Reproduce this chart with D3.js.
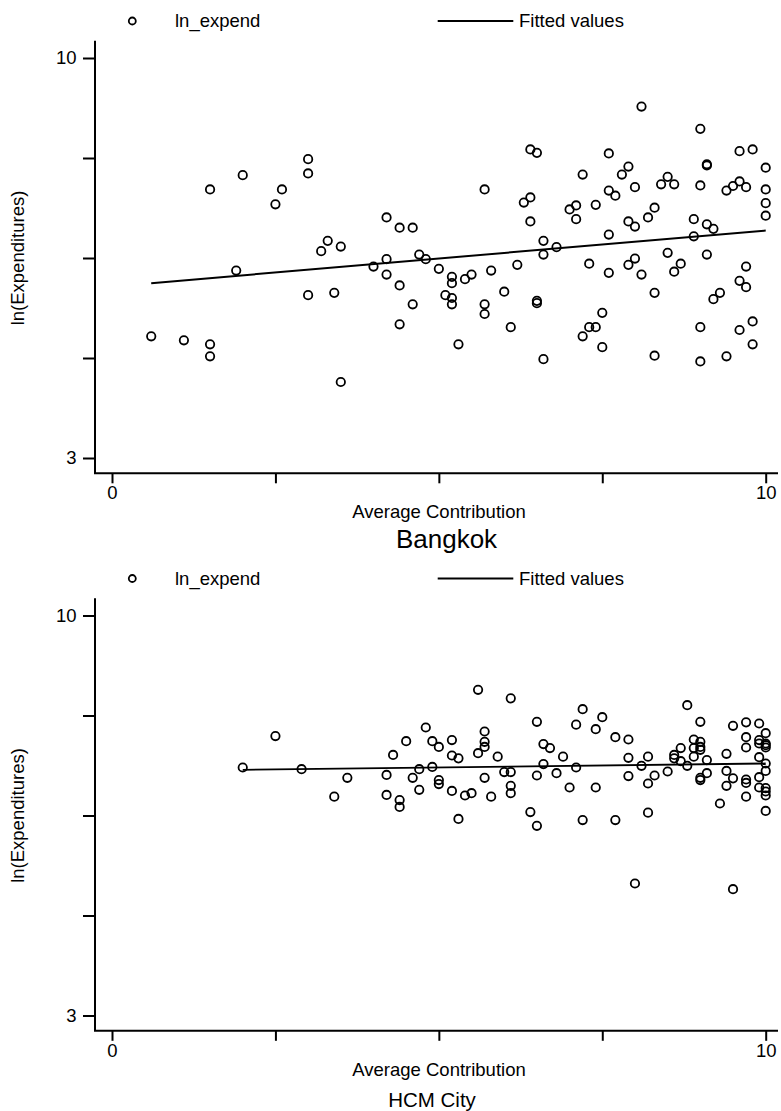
<!DOCTYPE html>
<html>
<head>
<meta charset="utf-8">
<script src="https://cdn.jsdelivr.net/npm/d3@7"></script>
<style>
  html, body { margin: 0; padding: 0; background: #fff; }
  svg { display: block; font-family: "Liberation Sans", Arial, sans-serif; }
</style>
</head>
<body>
<script>
// ---- data ----
const cities = ["Bangkok", "HCM City"];
const legendLabels = ["ln_expend", "Fitted values"];
const xTitle = "Average Contribution";
const yTitle = "ln(Expenditures)";
const xTicks = [0, 2.5, 5, 7.5, 10];
const xTickLabels = { 0: "0", 10: "10" };
const yTicks = [3, 4.75, 6.5, 8.25, 10];
const yTickLabels = { 3: "3", 10: "10" };

// [average contribution, ln(expenditures)]
const bangkokPoints = [
  [0.6, 5.13], [1.1, 5.06], [1.5, 4.99], [1.5, 4.78], [1.5, 7.70], [2.0, 7.95], [1.9, 6.28],
  [2.5, 7.44], [2.6, 7.70], [3.0, 8.23], [3.0, 7.98], [3.0, 5.85], [3.2, 6.62], [3.3, 6.80],
  [3.5, 6.70], [3.4, 5.89], [3.5, 4.33], [4.0, 6.35], [4.2, 7.21], [4.2, 6.48], [4.2, 6.21],
  [4.4, 7.03], [4.4, 6.02], [4.4, 5.34], [4.6, 7.03], [4.6, 5.69], [4.7, 6.56], [4.8, 6.48],
  [5.0, 6.31], [5.2, 6.17], [5.2, 6.06], [5.1, 5.85], [5.2, 5.80], [5.2, 5.69], [5.4, 6.13],
  [5.5, 6.21], [5.3, 4.99], [5.7, 7.70], [5.7, 5.69], [5.7, 5.52], [5.8, 6.28], [6.0, 5.91],
  [6.1, 5.29], [6.2, 6.38], [6.3, 7.47], [6.4, 7.56], [6.4, 7.14], [6.4, 8.40], [6.5, 8.34],
  [6.5, 5.75], [6.5, 5.71], [6.6, 6.80], [6.6, 6.56], [6.6, 4.73], [6.8, 6.69], [7.0, 7.35],
  [7.1, 7.42], [7.1, 7.18], [7.2, 7.96], [7.3, 6.40], [7.2, 5.13], [7.3, 5.29], [7.4, 5.29],
  [7.4, 7.43], [7.5, 5.54], [7.5, 4.94], [7.6, 8.33], [7.6, 7.68], [7.7, 7.59], [7.6, 6.91],
  [7.6, 6.24], [7.8, 7.96], [7.9, 8.10], [8.0, 7.74], [7.9, 7.14], [8.0, 7.05], [8.0, 6.49],
  [7.9, 6.38], [8.1, 6.21], [8.1, 9.15], [8.2, 7.21], [8.3, 7.38], [8.3, 5.89], [8.3, 4.79],
  [8.4, 7.79], [8.5, 7.92], [8.6, 7.79], [8.5, 6.59], [8.7, 6.40], [8.6, 6.26], [8.9, 7.18],
  [8.9, 6.88], [9.0, 8.76], [9.0, 7.77], [9.1, 8.14], [9.1, 8.12], [9.1, 7.09], [9.2, 7.01],
  [9.1, 6.56], [9.0, 5.29], [9.0, 4.69], [9.3, 5.89], [9.2, 5.78], [9.4, 7.68], [9.5, 7.76],
  [9.6, 7.84], [9.7, 7.74], [9.6, 8.37], [9.8, 8.40], [9.7, 6.35], [9.6, 6.10], [9.7, 5.99],
  [9.6, 5.24], [9.8, 5.39], [9.8, 4.99], [9.4, 4.78], [10, 8.08], [10, 7.70], [10, 7.46],
  [10, 7.24]
];

const hcmPoints = [
  [2.0, 7.34], [2.5, 7.89], [2.9, 7.31], [3.6, 7.16], [3.4, 6.83], [4.2, 7.21], [4.2, 6.86],
  [4.3, 7.56], [4.4, 6.77], [4.4, 6.65], [4.5, 7.80], [4.6, 7.16], [4.7, 7.31], [4.7, 6.95],
  [4.8, 8.04], [4.9, 7.80], [4.9, 7.35], [5.0, 7.70], [5.0, 7.12], [5.0, 7.05], [5.2, 7.82],
  [5.2, 7.55], [5.3, 7.50], [5.2, 6.93], [5.3, 6.44], [5.4, 6.85], [5.5, 6.89], [5.6, 8.70],
  [5.6, 7.59], [5.7, 7.97], [5.7, 7.79], [5.7, 7.70], [5.7, 7.16], [5.8, 6.83], [5.9, 7.53],
  [6.0, 7.26], [6.1, 8.55], [6.1, 7.26], [6.1, 7.02], [6.1, 6.89], [6.4, 6.56], [6.5, 6.32],
  [6.5, 8.14], [6.5, 7.20], [6.6, 7.75], [6.7, 7.68], [6.6, 7.40], [6.8, 7.24], [6.9, 7.53],
  [7.0, 6.99], [7.1, 8.09], [7.1, 7.34], [7.2, 8.36], [7.2, 6.42], [7.4, 8.01], [7.4, 6.99],
  [7.5, 8.22], [7.7, 7.87], [7.7, 6.42], [7.9, 7.83], [7.9, 7.51], [7.9, 7.19], [8.0, 5.31],
  [8.1, 7.37], [8.2, 7.53], [8.2, 7.06], [8.2, 6.55], [8.3, 7.20], [8.5, 7.27], [8.6, 7.56],
  [8.6, 7.50], [8.7, 7.68], [8.7, 7.45], [8.8, 8.43], [8.8, 7.37], [8.9, 7.83], [8.9, 7.68],
  [8.9, 7.53], [9.0, 8.14], [9.0, 7.79], [9.0, 7.70], [9.0, 7.65], [9.0, 7.16], [9.0, 7.12],
  [9.1, 7.47], [9.1, 7.24], [9.3, 6.71], [9.4, 7.58], [9.4, 7.28], [9.4, 7.02], [9.5, 8.07],
  [9.5, 7.15], [9.5, 5.21], [9.7, 8.13], [9.7, 7.87], [9.7, 7.69], [9.7, 7.13], [9.7, 7.07],
  [9.7, 6.83], [9.9, 8.11], [9.9, 7.82], [9.9, 7.76], [9.9, 7.52], [9.9, 7.17], [9.9, 6.99],
  [10, 7.94], [10, 7.76], [10, 7.73], [10, 7.69], [10, 7.41], [10, 7.28], [10, 6.98],
  [10, 6.92], [10, 6.85], [10, 6.58]
];

// fitted regression lines, endpoints at the min / max contribution
const bangkokFit = [[0.6, 6.06], [10, 6.98]];
const hcmFit = [[2.0, 7.30], [10, 7.41]];

// ---- layout ----
const W = 781, H = 1111, panelH = 557.5;
const axisX = 95, axisY = 473.3, axisTop = 40.7, axisRight = 778;
const baseFont = 18.5;

const svg = d3.select("body").append("svg")
  .attr("width", W).attr("height", H)
  .attr("viewBox", `0 0 ${W} ${H}`);

const x = d3.scaleLinear().domain([0, 10]).range([112, 765.7]);
const y = d3.scaleLinear().domain([3, 10]).range([458, 58]);
const line = d3.line().x(d => x(d[0])).y(d => y(d[1]));

const panels = [
  { name: cities[0], points: bangkokPoints, fit: bangkokFit, titleSize: 26, titleX: 446.5, titleY: 547.5, fitWidth: 2 },
  { name: cities[1], points: hcmPoints, fit: hcmFit, titleSize: 20.5, titleX: 432, titleY: 549.8, fitWidth: 1.8 }
];

panels.forEach((p, i) => {
  const g = svg.append("g").attr("transform", `translate(0,${i * panelH})`);

  // legend row
  const lg = g.append("g").attr("font-size", baseFont);
  lg.append("circle")
    .attr("cx", 132.3).attr("cy", 21).attr("r", 3.5)
    .attr("fill", "none").attr("stroke", "#000").attr("stroke-width", 1.8);
  lg.append("text").attr("x", 175).attr("y", 21).attr("dy", "0.35em").text(legendLabels[0]);
  lg.append("line")
    .attr("x1", 437.7).attr("x2", 513.3).attr("y1", 21).attr("y2", 21)
    .attr("stroke", "#000").attr("stroke-width", 2);
  lg.append("text").attr("x", 519).attr("y", 21).attr("dy", "0.35em").text(legendLabels[1]);

  // y axis
  const ya = g.append("g").attr("transform", `translate(${axisX},0)`)
    .call(d3.axisLeft(y).tickValues(yTicks).tickSize(12).tickPadding(6.5)
      .tickFormat(d => yTickLabels[d] || ""));
  ya.select(".domain").remove();

  // x axis
  const xa = g.append("g").attr("transform", `translate(0,${axisY})`)
    .call(d3.axisBottom(x).tickValues(xTicks).tickSize(10).tickPadding(3)
      .tickFormat(d => xTickLabels[d] || ""));
  xa.select(".domain").remove();

  [ya, xa].forEach(a => {
    a.attr("font-size", baseFont).attr("font-family", null);
    a.selectAll(".tick line").attr("stroke", "#000").attr("stroke-width", 2);
    a.selectAll(".tick text").attr("fill", "#000");
  });

  g.append("path")
    .attr("d", `M${axisX},${axisTop}V${axisY}H${axisRight}`)
    .attr("fill", "none").attr("stroke", "#000").attr("stroke-width", 2)
    .attr("stroke-linejoin", "miter");

  // axis titles
  g.append("text")
    .attr("x", 439).attr("y", 518.2)
    .attr("text-anchor", "middle").attr("font-size", baseFont)
    .text(xTitle);
  g.append("text")
    .attr("transform", `translate(24,258) rotate(-90)`)
    .attr("text-anchor", "middle").attr("font-size", baseFont)
    .text(yTitle);

  // panel caption
  g.append("text")
    .attr("x", p.titleX).attr("y", p.titleY)
    .attr("text-anchor", "middle").attr("font-size", p.titleSize)
    .text(p.name);

  // scatter
  g.append("g").selectAll("circle").data(p.points).join("circle")
    .attr("cx", d => x(d[0])).attr("cy", d => y(d[1])).attr("r", 4.2)
    .attr("fill", "none").attr("stroke", "#000").attr("stroke-width", 1.8);

  // fitted line
  g.append("path").datum(p.fit)
    .attr("d", line)
    .attr("fill", "none").attr("stroke", "#000").attr("stroke-width", p.fitWidth);
});
</script>
</body>
</html>
